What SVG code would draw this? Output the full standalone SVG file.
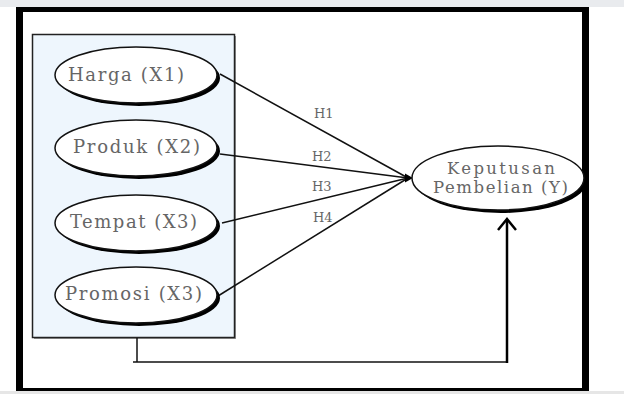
<svg xmlns="http://www.w3.org/2000/svg" width="624" height="394" viewBox="0 0 624 394">
<style>
.lbl{font-family:"DejaVu Serif","Liberation Serif",serif;fill:#666;font-size:18px}
.y{font-size:16.5px}
.h{font-family:"DejaVu Serif","Liberation Serif",serif;fill:#666;font-size:13px}
.sh{fill:#000}
.el{fill:#fff;stroke:#111;stroke-width:1.5}
.ln{stroke:#111;stroke-width:1.5;fill:none}
</style>
<rect x="0" y="0" width="624" height="394" fill="#fff"/>
<rect x="0" y="0" width="624" height="7" fill="#e9ebee"/>
<rect x="0" y="391" width="624" height="3" fill="#e6e6e6"/>
<g id="frame">
<rect x="16" y="7" width="573" height="5" fill="#000"/>
<rect x="16" y="7" width="7" height="384" fill="#000"/>
<rect x="582" y="7" width="7" height="384" fill="#000"/>
<rect x="16" y="388" width="573" height="3" fill="#000"/>
</g>
<g id="group-x">
<rect x="34" y="36" width="202" height="303" fill="#999"/>
<rect x="32.5" y="34.5" width="202" height="303" fill="#eef6fd" stroke="#222" stroke-width="1.5"/>
</g>
<g id="connectors">
<line class="ln" x1="220" y1="74" x2="408" y2="178"/>
<line class="ln" x1="220" y1="154" x2="408" y2="178"/>
<line class="ln" x1="222" y1="223" x2="408" y2="178"/>
<line class="ln" x1="218" y1="296" x2="408" y2="178"/>
<polygon points="413,178 405,173.5 405,182.5" fill="#000"/>
<polyline class="ln" points="137,338 137,362"/>
<polyline class="ln" points="133,362 507,362"/>
<line x1="507" y1="363" x2="507" y2="220" stroke="#000" stroke-width="2.5"/>
<polyline points="498,230 507,219 516,230" fill="none" stroke="#000" stroke-width="2.5"/>
<text class="h" x="314" y="118">H1</text>
<text class="h" x="312" y="161">H2</text>
<text class="h" x="312" y="191">H3</text>
<text class="h" x="313" y="222">H4</text>
</g>
<g id="harga">
<ellipse class="sh" cx="139" cy="78" rx="81" ry="28"/>
<ellipse class="el" cx="136" cy="75" rx="81" ry="28"/>
<text class="lbl" x="68" y="81" textLength="116" lengthAdjust="spacing">Harga (X1)</text>
</g>
<g id="produk">
<ellipse class="sh" cx="139" cy="151" rx="81" ry="28"/>
<ellipse class="el" cx="136" cy="148" rx="81" ry="28"/>
<text class="lbl" x="73" y="153" textLength="127" lengthAdjust="spacing">Produk (X2)</text>
</g>
<g id="tempat">
<ellipse class="sh" cx="139" cy="226" rx="81" ry="28"/>
<ellipse class="el" cx="136" cy="223" rx="81" ry="28"/>
<text class="lbl" x="70" y="228" textLength="127" lengthAdjust="spacing">Tempat (X3)</text>
</g>
<g id="promosi">
<ellipse class="sh" cx="139" cy="298" rx="81" ry="28"/>
<ellipse class="el" cx="136" cy="295" rx="81" ry="28"/>
<text class="lbl" x="65" y="300" textLength="137" lengthAdjust="spacing">Promosi (X3)</text>
</g>
<g id="keputusan">
<ellipse class="sh" cx="501" cy="181" rx="86" ry="32"/>
<ellipse class="el" cx="498" cy="178" rx="86" ry="32"/>
<text class="lbl y" x="447" y="174" textLength="108" lengthAdjust="spacing">Keputusan</text>
<text class="lbl y" x="433" y="193" textLength="135" lengthAdjust="spacing">Pembelian (Y)</text>
</g>
</svg>
